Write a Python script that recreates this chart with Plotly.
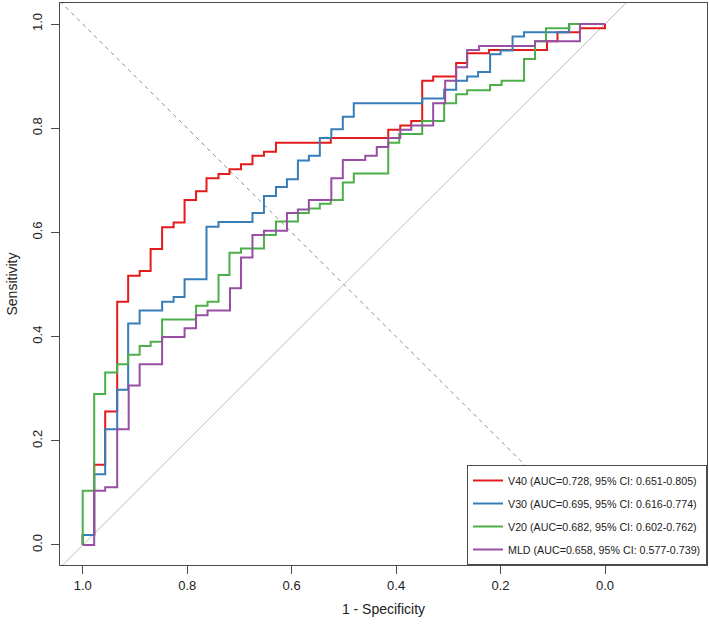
import plotly.graph_objects as go

# ROC step points (specificity, sensitivity), drawn with vertical-then-horizontal steps
v40_spec = [1, 0.978, 0.957, 0.934, 0.913, 0.891, 0.870, 0.848, 0.826, 0.805, 0.783, 0.763, 0.740, 0.719,
            0.697, 0.675, 0.653, 0.630, 0.525, 0.415, 0.392, 0.371, 0.350, 0.329, 0.285, 0.264, 0.222,
            0.111, 0.091, 0.048, 0, 0]
v40_sens = [0, 0.019, 0.154, 0.256, 0.467, 0.517, 0.526, 0.568, 0.610, 0.619, 0.662, 0.679, 0.704, 0.712,
            0.721, 0.731, 0.747, 0.755, 0.772, 0.781, 0.797, 0.805, 0.814, 0.891, 0.899, 0.925, 0.944,
            0.950, 0.967, 0.984, 0.992, 1]

v30_spec = [1, 0.978, 0.957, 0.934, 0.913, 0.891, 0.848, 0.826, 0.805, 0.763, 0.740, 0.675, 0.653, 0.630,
            0.609, 0.588, 0.567, 0.546, 0.524, 0.502, 0.481, 0.350, 0.308, 0.285, 0.264, 0.243, 0.220,
            0.200, 0.177, 0.155, 0.069, 0]
v30_sens = [0, 0.019, 0.136, 0.222, 0.298, 0.425, 0.450, 0.467, 0.476, 0.510, 0.611, 0.620, 0.637, 0.670,
            0.687, 0.702, 0.738, 0.747, 0.781, 0.798, 0.822, 0.848, 0.857, 0.874, 0.891, 0.899, 0.908,
            0.942, 0.949, 0.976, 0.984, 1]

v20_spec = [1, 0.978, 0.957, 0.934, 0.913, 0.891, 0.870, 0.848, 0.783, 0.761, 0.740, 0.719, 0.697, 0.653,
            0.630, 0.588, 0.567, 0.546, 0.525, 0.502, 0.481, 0.415, 0.394, 0.350, 0.308, 0.285, 0.264,
            0.220, 0.198, 0.155, 0.134, 0.113, 0.068, 0]
v20_sens = [0, 0.104, 0.290, 0.331, 0.347, 0.365, 0.382, 0.390, 0.433, 0.459, 0.467, 0.518, 0.561, 0.569,
            0.595, 0.621, 0.637, 0.646, 0.655, 0.662, 0.696, 0.713, 0.772, 0.789, 0.814, 0.848, 0.865,
            0.873, 0.883, 0.891, 0.933, 0.967, 0.992, 1]

mld_spec = [1, 0.978, 0.957, 0.934, 0.912, 0.891, 0.848, 0.805, 0.783, 0.761, 0.718, 0.697, 0.675, 0.653,
            0.609, 0.588, 0.567, 0.524, 0.502, 0.459, 0.437, 0.415, 0.392, 0.371, 0.329, 0.306, 0.285,
            0.264, 0.241, 0.134, 0.048, 0]
mld_sens = [0, 0, 0.104, 0.111, 0.222, 0.306, 0.347, 0.399, 0.416, 0.441, 0.450, 0.493, 0.552, 0.595,
            0.603, 0.637, 0.644, 0.662, 0.704, 0.739, 0.747, 0.764, 0.781, 0.797, 0.805, 0.848, 0.891,
            0.917, 0.950, 0.958, 0.967, 1]

series_names = ["V40 (AUC=0.728, 95% CI: 0.651-0.805)",
                "V30 (AUC=0.695, 95% CI: 0.616-0.774)",
                "V20 (AUC=0.682, 95% CI: 0.602-0.762)",
                "MLD (AUC=0.658, 95% CI: 0.577-0.739)"]
series_colors = ["#E41A1C", "#377EB8", "#4DAF4A", "#984EA3"]

tick_vals = [1.0, 0.8, 0.6, 0.4, 0.2, 0.0]
tick_text = ["1.0", "0.8", "0.6", "0.4", "0.2", "0.0"]

x_range = [1.0435, -0.1953]
y_range = [-0.0384, 1.0403]

fig = go.Figure()
for i, (spec, sens, name, color) in enumerate(zip([v40_spec, v30_spec, v20_spec, mld_spec],
                                                  [v40_sens, v30_sens, v20_sens, mld_sens],
                                                  series_names, series_colors)):
    fig.add_trace(go.Scatter(x=spec, y=sens, mode="lines", name=name, legendgroup=f"g{i}",
                             line=dict(color=color, width=2, shape="vh")))

# chance diagonal (sens = 1 - spec) and dashed line (sens = spec)
fig.add_shape(type="line", xref="x", yref="y", layer="below",
              x0=x_range[0], y0=1 - x_range[0], x1=x_range[1], y1=1 - x_range[1],
              line=dict(color="#BEBEBE", width=1))
fig.add_shape(type="line", xref="x", yref="y", layer="below",
              x0=x_range[0], y0=x_range[0], x1=y_range[0], y1=y_range[0],
              line=dict(color="#8C8C8C", width=1, dash="4px,4px"))

axis_color = "#4A4A4A"
fig.update_layout(
    width=709, height=624,
    margin=dict(l=60, r=2, t=3, b=59),
    paper_bgcolor="white", plot_bgcolor="white",
    font=dict(family="Liberation Sans, Arial, sans-serif", color="#222222", size=13),
    showlegend=True,
    legend=dict(x=1, y=0, xanchor="right", yanchor="bottom",
                bgcolor="white", bordercolor=axis_color, borderwidth=1,
                font=dict(size=10.7, color="#222222"), tracegroupgap=4),
    xaxis=dict(range=x_range, tickvals=tick_vals, ticktext=tick_text,
               ticks="outside", ticklen=8, tickcolor=axis_color, tickwidth=1,
               showline=True, linecolor=axis_color, linewidth=1, mirror=True,
               showgrid=False, zeroline=False,
               title=dict(text="1 - Specificity", font=dict(size=14), standoff=12)),
    yaxis=dict(range=y_range, tickvals=tick_vals, ticktext=tick_text, tickangle=-90,
               ticks="outside", ticklen=8, tickcolor=axis_color, tickwidth=1,
               ticklabelstandoff=4,
               showline=True, linecolor=axis_color, linewidth=1, mirror=True,
               showgrid=False, zeroline=False,
               title=dict(text="Sensitivity", font=dict(size=14), standoff=8)),
)

fig.write_html("out.html")
